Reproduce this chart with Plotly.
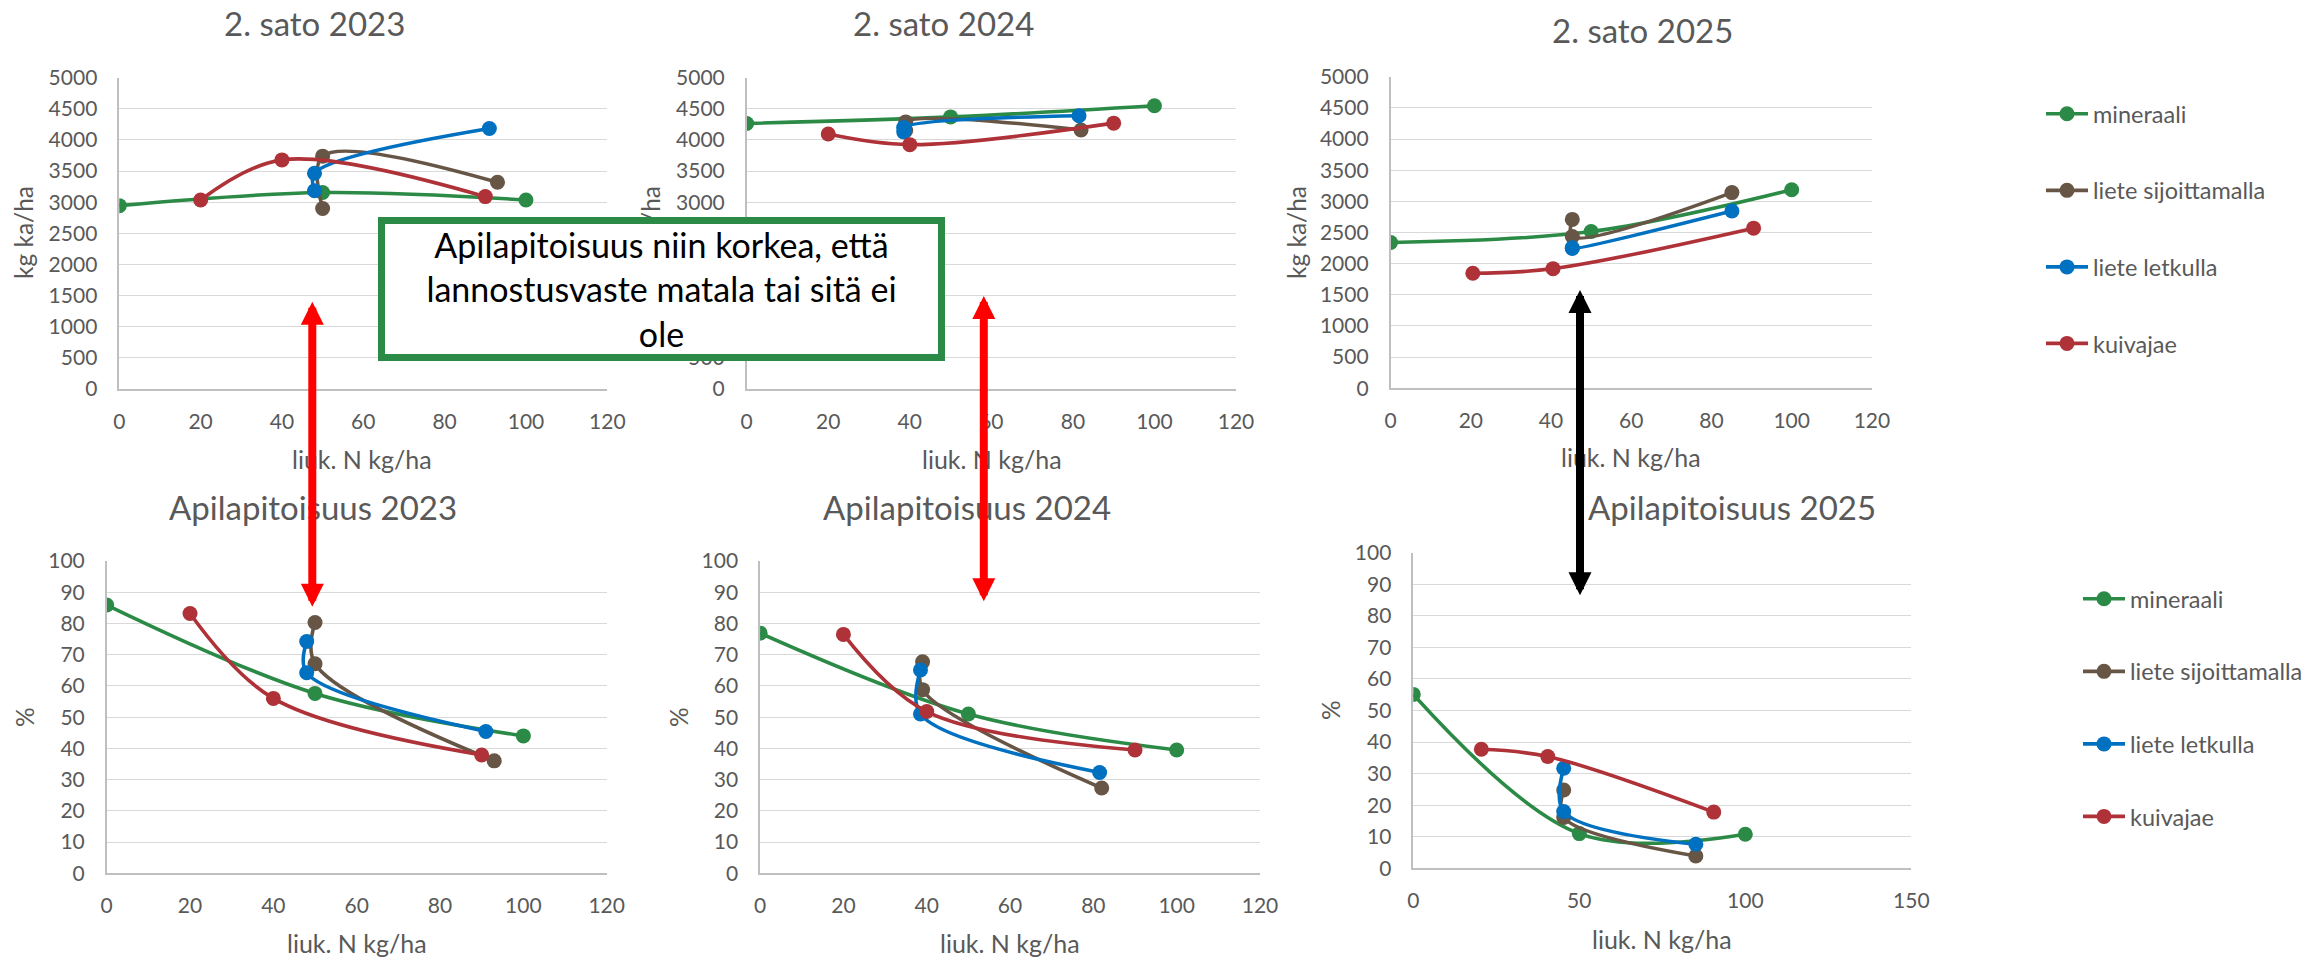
import plotly.graph_objects as go

W, H = 2323, 957
FONT = "Lato"
GREY_TXT = "#595959"

SERIES = ["mineraali", "liete sijoittamalla", "liete letkulla", "kuivajae"]
COLORS = ["#2B8A45", "#675646", "#0070C0", "#AE3238"]

# Liukoinen typpi (kg/ha) eri käsittelyissä
N_MINERAALI = [0, 50, 100]
N_KUIVAJAE_2324 = [20, 40, 90]
N_SIJ_2023 = [50, 50, 93]
N_LETKU_2023 = [48, 48, 91]
N_SIJ_2024 = [39, 39, 82]
N_LETKU_2024 = [38.5, 38.5, 81.5]
N_LIETE_2025 = [45.3, 45.3, 85.1]
N_KUIVAJAE_2025 = [20.5, 40.5, 90.5]

# 2. sadon kuiva-ainesato (kg ka/ha)
SATO_2023_MIN = [2945, 3155, 3035]
SATO_2023_SIJ = [2900, 3740, 3320]
SATO_2023_LETKU = [3185, 3465, 4185]
SATO_2023_KUIVA = [3035, 3680, 3090]

SATO_2024_MIN = [4265, 4370, 4550]
SATO_2024_SIJ = [4150, 4290, 4160]
SATO_2024_LETKU = [4130, 4200, 4390]
SATO_2024_KUIVA = [4095, 3925, 4270]

SATO_2025_MIN = [2340, 2515, 3185]
SATO_2025_SIJ = [2710, 2435, 3140]
SATO_2025_LETKU = [2255, 2245, 2845]
SATO_2025_KUIVA = [1845, 1920, 2570]

# Apilapitoisuus (%)
APILA_2023_MIN = [85.9, 57.6, 44.0]
APILA_2023_SIJ = [80.3, 67.1, 36.0]
APILA_2023_LETKU = [74.2, 64.2, 45.4]
APILA_2023_KUIVA = [83.2, 56.0, 37.9]

APILA_2024_MIN = [76.9, 51.0, 39.5]
APILA_2024_SIJ = [67.7, 58.8, 27.3]
APILA_2024_LETKU = [65.1, 51.0, 32.3]
APILA_2024_KUIVA = [76.5, 51.8, 39.5]

APILA_2025_MIN = [55.1, 11.0, 10.8]
APILA_2025_SIJ = [24.8, 16.1, 3.9]
APILA_2025_LETKU = [31.7, 18.0, 7.6]
APILA_2025_KUIVA = [37.7, 35.4, 17.8]

TITLES = ["2. sato 2023", "2. sato 2024", "2. sato 2025",
          "Apilapitoisuus 2023", "Apilapitoisuus 2024", "Apilapitoisuus 2025"]
X_TITLE = "liuk. N kg/ha"
Y_TITLES = ["kg ka/ha", "kg ka/ha", "kg ka/ha", "%", "%", "%"]
NOTE = "Apilapitoisuus niin korkea, että<br>lannostusvaste matala tai sitä ei<br>ole"

N_SETS = [
    [N_MINERAALI, N_SIJ_2023, N_LETKU_2023, N_KUIVAJAE_2324],
    [N_MINERAALI, N_SIJ_2024, N_LETKU_2024, N_KUIVAJAE_2324],
    [N_MINERAALI, N_LIETE_2025, N_LIETE_2025, N_KUIVAJAE_2025],
]
Y_SETS = [
    [SATO_2023_MIN, SATO_2023_SIJ, SATO_2023_LETKU, SATO_2023_KUIVA],
    [SATO_2024_MIN, SATO_2024_SIJ, SATO_2024_LETKU, SATO_2024_KUIVA],
    [SATO_2025_MIN, SATO_2025_SIJ, SATO_2025_LETKU, SATO_2025_KUIVA],
    [APILA_2023_MIN, APILA_2023_SIJ, APILA_2023_LETKU, APILA_2023_KUIVA],
    [APILA_2024_MIN, APILA_2024_SIJ, APILA_2024_LETKU, APILA_2024_KUIVA],
    [APILA_2025_MIN, APILA_2025_SIJ, APILA_2025_LETKU, APILA_2025_KUIVA],
]


def fx(p):
    return p / W


def fy(p):
    return 1 - p / H


# plot areas in pixels: (left, right, top, bottom)
BOXES = [
    (119.3, 607.3, 77.7, 389.0),
    (746.7, 1236.0, 77.7, 389.0),
    (1390.6, 1871.9, 76.7, 388.3),
    (106.7, 606.7, 561.0, 873.3),
    (760.1, 1260.0, 561.0, 873.3),
    (1413.3, 1911.3, 552.7, 868.3),
]
TITLE_POS = [(314, 23), (943, 23), (1642, 30), (313, 507), (967, 507), (1732, 507)]
XT_POS = [(362, 459), (992, 459), (1631, 457), (357, 943), (1010, 943), (1662, 939)]
YT_POS = [(24, 233), (651, 233), (1297, 233), (24, 717), (678, 717), (1330, 710)]

fig = go.Figure()

for k in range(6):
    xs = N_SETS[k % 3]
    ys = Y_SETS[k]
    ax = "" if k == 0 else str(k + 1)
    for i in range(4):
        if k == 2:
            leg = dict(showlegend=True, legend="legend", legendgroup=f"t{i}")
        elif k == 5:
            leg = dict(showlegend=True, legend="legend2", legendgroup=f"b{i}")
        else:
            leg = dict(showlegend=False)
        fig.add_trace(go.Scatter(
            x=xs[i], y=ys[i], name=SERIES[i], mode="lines+markers",
            line=dict(color=COLORS[i], width=3.6, shape="spline", smoothing=1),
            marker=dict(color=COLORS[i], size=15),
            xaxis="x" + ax, yaxis="y" + ax, **leg))

    l, r, t, b = BOXES[k]
    top_row = k < 3
    xr = [0, 150] if k == 5 else [0, 120]
    xd = 50 if k == 5 else 20
    fig.update_layout(**{
        "xaxis" + ax: dict(
            domain=[fx(l), fx(r)], anchor="y" + ax, range=xr, dtick=xd,
            showgrid=False, zeroline=False, showline=True, linecolor="#BFBFBF",
            linewidth=1.5, ticks="", ticklabelstandoff=13,
            tickfont=dict(family=FONT, size=21, color=GREY_TXT), automargin=False),
        "yaxis" + ax: dict(
            domain=[fy(b), fy(t)], anchor="x" + ax,
            range=[0, 5000] if top_row else [0, 100], dtick=500 if top_row else 10,
            showgrid=True, gridcolor="#D9D9D9", gridwidth=1.4, zeroline=False,
            showline=True, linecolor="#BFBFBF", linewidth=1.5, ticks="",
            ticklabelstandoff=16,
            tickfont=dict(family=FONT, size=21, color=GREY_TXT), automargin=False),
    })
    fig.add_annotation(text=TITLES[k], x=fx(TITLE_POS[k][0]), y=fy(TITLE_POS[k][1]),
                       xref="paper", yref="paper", showarrow=False,
                       xanchor="center", yanchor="middle",
                       font=dict(family=FONT, size=33, color=GREY_TXT))
    fig.add_annotation(text=X_TITLE, x=fx(XT_POS[k][0]), y=fy(XT_POS[k][1]),
                       xref="paper", yref="paper", showarrow=False,
                       xanchor="center", yanchor="middle",
                       font=dict(family=FONT, size=25, color=GREY_TXT))
    fig.add_annotation(text=Y_TITLES[k], x=fx(YT_POS[k][0]), y=fy(YT_POS[k][1]),
                       xref="paper", yref="paper", showarrow=False, textangle=-90,
                       xanchor="center", yanchor="middle",
                       font=dict(family=FONT, size=24.5, color=GREY_TXT))


# double-headed arrows linking the yield and clover panels (drawn over the titles)
def add_arrow(x, y_top, y_bot, color, shaft=8):
    fig.add_annotation(
        text="", x=fx(x), y=fy(y_top), xref="paper", yref="paper",
        ax=0, ay=y_bot - y_top, axref="pixel", ayref="pixel",
        showarrow=True, arrowside="end+start", arrowhead=2, startarrowhead=2,
        arrowsize=0.575, startarrowsize=0.575, arrowwidth=shaft, arrowcolor=color,
        standoff=0, startstandoff=0)


add_arrow(312.3, 301.7, 608.3, "#FF0000")
add_arrow(983.8, 296.0, 602.7, "#FF0000")
add_arrow(1580.0, 290.0, 596.7, "#000000")

# framed note on top of the upper panels
fig.add_annotation(
    text=NOTE, x=fx(661.1), y=fy(289.5), xref="paper", yref="paper",
    showarrow=False, xanchor="center", yanchor="middle", align="center",
    valign="middle", width=553, height=130, bgcolor="white",
    bordercolor="#2B8A45", borderwidth=7, borderpad=0,
    font=dict(family=FONT, size=34, color="black"))

legend_style = dict(font=dict(family=FONT, size=23.5, color=GREY_TXT),
                    bgcolor="rgba(0,0,0,0)", xanchor="left", yanchor="top",
                    itemwidth=42)
fig.update_layout(
    width=W, height=H, margin=dict(l=0, r=0, t=0, b=0),
    paper_bgcolor="white", plot_bgcolor="white",
    legend=dict(x=fx(2041), y=fy(92), tracegroupgap=43, **legend_style),
    legend2=dict(x=fx(2078), y=fy(577), tracegroupgap=39, **legend_style),
)

fig.write_html("out.html")
